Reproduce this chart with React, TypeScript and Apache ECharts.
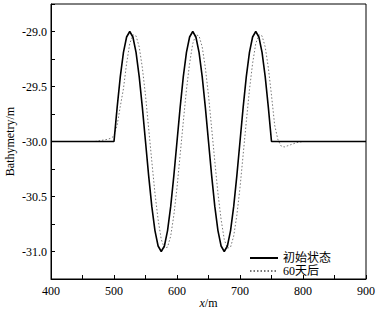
import React, { useEffect, useRef } from "react";
import * as echarts from "echarts";

const initialX: number[] = [
  400, 500, 505, 510, 515, 520, 525, 530, 535, 540, 545, 550, 555, 560, 565, 570, 575, 580, 585, 590, 595,
  600, 605, 610, 615, 620, 625, 630, 635, 640, 645, 650, 655, 660, 665, 670, 675, 680, 685, 690, 695,
  700, 705, 710, 715, 720, 725, 730, 735, 740, 745, 750, 900,
];
const initialY: number[] = [
  -30.0, -30.0, -29.69, -29.41, -29.19, -29.05, -29.0, -29.05, -29.19, -29.41, -29.69, -30.0, -30.31, -30.59, -30.81, -30.95, -31.0, -30.95, -30.81, -30.59, -30.31,
  -30.0, -29.69, -29.41, -29.19, -29.05, -29.0, -29.05, -29.19, -29.41, -29.69, -30.0, -30.31, -30.59, -30.81, -30.95, -31.0, -30.95, -30.81, -30.59, -30.31,
  -30.0, -29.69, -29.41, -29.19, -29.05, -29.0, -29.05, -29.19, -29.41, -29.69, -30.0, -30.0,
];

const laterX: number[] = [
  470, 475, 480, 485, 490, 495, 500, 505, 510, 515, 520, 525, 530, 535, 540, 545, 550, 555, 560, 565, 570, 575, 580, 585, 590, 595,
  600, 605, 610, 615, 620, 625, 630, 635, 640, 645, 650, 655, 660, 665, 670, 675, 680, 685, 690, 695,
  700, 705, 710, 715, 720, 725, 730, 735, 740, 745, 750, 755, 760, 765, 770, 775, 780, 785, 790, 795, 800, 850,
];
const laterY: number[] = [
  -30.0, -29.995, -29.99, -29.985, -29.98, -29.97, -29.95, -29.85, -29.68, -29.52, -29.29, -29.11, -29.03, -29.04, -29.14, -29.33, -29.58, -29.88, -30.18, -30.47, -30.71, -30.89, -30.97, -30.96, -30.86, -30.67,
  -30.42, -30.12, -29.82, -29.53, -29.29, -29.11, -29.03, -29.04, -29.14, -29.33, -29.58, -29.88, -30.18, -30.47, -30.71, -30.89, -30.97, -30.96, -30.86, -30.67,
  -30.42, -30.12, -29.82, -29.53, -29.29, -29.11, -29.03, -29.04, -29.14, -29.33, -29.58, -29.85, -29.98, -30.04, -30.05, -30.04, -30.03, -30.02, -30.01, -30.005, -30.0, -30.0,
];

const seriesNames = ["初始状态", "60天后"];
const yAxisName = "Bathymetry/m";

const FONT = "'Liberation Serif', 'Times New Roman', 'Noto Sans CJK SC', serif";

export default function App() {
  const ref = useRef<HTMLDivElement>(null);
  useEffect(() => {
    if (!ref.current) return;
    const chart = echarts.init(ref.current, null, { renderer: "svg" });
    chart.setOption({
      animation: false,
      backgroundColor: "#fff",
      grid: {
        left: 51,
        right: 18,
        top: 4,
        bottom: 30,
        outerBoundsMode: "none",
        containLabel: false,
        show: true,
        borderColor: "#000",
        borderWidth: 1,
      },
      legend: {
        orient: "vertical",
        left: 244,
        top: 247,
        itemWidth: 28,
        itemHeight: 12,
        itemGap: 1,
        itemStyle: { opacity: 0 },
        textStyle: { fontFamily: FONT, fontSize: 12, color: "#000" },
        data: seriesNames,
      },
      xAxis: {
        type: "value",
        min: 400,
        max: 900,
        interval: 50,
        name: "{i|x}/m",
        nameLocation: "middle",
        nameGap: 18,
        nameMoveOverlap: false,
        nameTextStyle: {
          fontFamily: FONT,
          fontSize: 12,
          color: "#000",
          rich: { i: { fontFamily: FONT, fontSize: 12, fontStyle: "italic", color: "#000" } },
        },
        axisLine: { lineStyle: { color: "#000", width: 1 } },
        axisTick: { inside: true, length: 4, lineStyle: { color: "#000" } },
        axisLabel: {
          fontFamily: FONT,
          fontSize: 12,
          color: "#000",
          margin: 6,
          formatter: (v: number) => (v % 100 === 0 ? String(v) : ""),
        },
        splitLine: { show: false },
      },
      yAxis: {
        type: "value",
        min: -31.25,
        max: -28.75,
        interval: 0.25,
        name: yAxisName,
        nameLocation: "middle",
        nameGap: 35,
        nameMoveOverlap: false,
        nameTextStyle: { fontFamily: FONT, fontSize: 12, color: "#000" },
        axisLine: { lineStyle: { color: "#000", width: 1 } },
        axisTick: { inside: true, length: 4, lineStyle: { color: "#000" } },
        axisLabel: {
          fontFamily: FONT,
          fontSize: 12,
          color: "#000",
          margin: 4,
          formatter: (v: number) =>
            Math.abs(v * 2 - Math.round(v * 2)) < 1e-6 ? v.toFixed(1) : "",
        },
        splitLine: { show: false },
      },
      series: [
        {
          name: seriesNames[0],
          type: "line",
          symbol: "none",
          data: initialX.map((x, i) => [x, initialY[i]]),
          lineStyle: { color: "#000", width: 1.6 },
          itemStyle: { color: "#000" },
          z: 3,
        },
        {
          name: seriesNames[1],
          type: "line",
          symbol: "none",
          data: laterX.map((x, i) => [x, laterY[i]]),
          lineStyle: { color: "#777", width: 1, type: [1.5, 2] },
          itemStyle: { color: "#777" },
          z: 2,
        },
      ],
    });
    return () => chart.dispose();
  }, []);
  return <div ref={ref} style={{ width: 384, height: 309, position: "absolute", left: 0, top: 0 }} />;
}
